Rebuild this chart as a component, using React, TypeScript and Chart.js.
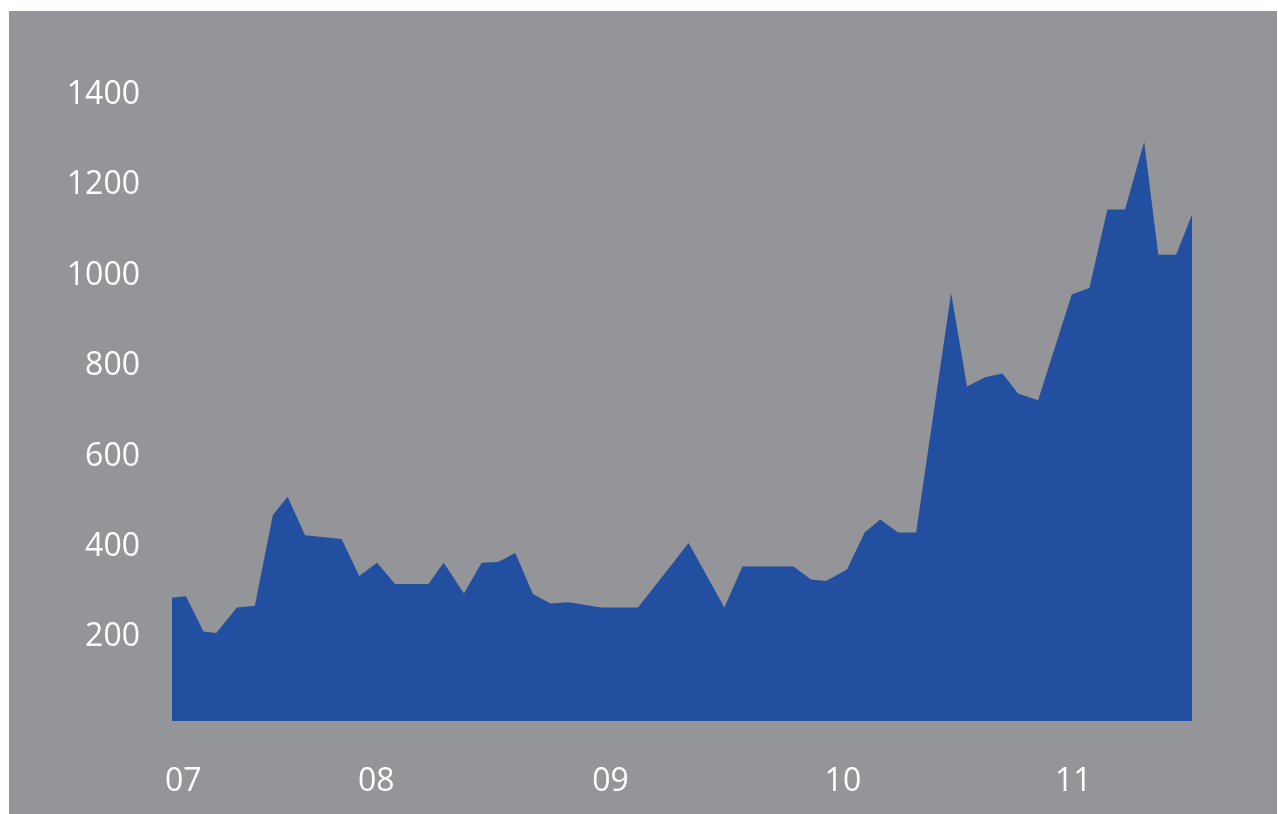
import React, { useEffect, useRef } from "react";
import { Chart, registerables } from "chart.js";

Chart.register(...registerables);

// x positions in months since Jan 2007
const months: number[] = [
  1.45, 2.17, 3.08, 3.74, 4.8, 5.73, 6.66, 7.42, 8.32, 10.21, 11.12, 12.04, 12.97, 14.69, 15.48,
  16.53, 17.44, 18.29, 19.18, 20.09, 20.99, 21.93, 23.61, 25.52, 28.13, 29.98, 30.91, 33.55,
  34.45, 35.23, 36.31, 37.22, 38.03, 38.95, 39.88, 41.69, 42.51, 43.44, 44.34, 45.15, 46.18,
  47.92, 48.83, 49.76, 50.67, 51.66, 52.39, 53.31, 54.13,
];
const values: number[] = [
  281, 284, 206, 203, 259, 263, 464, 504, 419, 411, 329, 358, 311, 311, 358,
  290, 358, 360, 380, 289, 268, 271, 259, 259, 402, 259, 350, 350,
  321, 318, 343, 425, 454, 425, 425, 955, 748, 769, 777, 733, 718,
  952, 966, 1140, 1140, 1290, 1040, 1040, 1129,
];
const xTickValues: number[] = [2.03, 12, 24.1, 36.1, 48];
const xTickLabels: string[] = ["07", "08", "09", "10", "11"];
const yTickValues: number[] = [200, 400, 600, 800, 1000, 1200, 1400];

const GRAY = "#939598";
const BLUE = "#234fa0";
const FONT = "'Open Sans', sans-serif";

export default function App() {
  const ref = useRef<HTMLCanvasElement | null>(null);

  useEffect(() => {
    if (!ref.current) return;
    const points = months.map((m, i) => ({ x: m, y: values[i] }));
    const chart = new Chart(ref.current, {
      type: "line",
      data: {
        datasets: [
          {
            data: points,
            fill: "start",
            backgroundColor: BLUE,
            borderWidth: 0,
            borderColor: BLUE,
            pointRadius: 0,
            tension: 0,
          },
        ],
      },
      options: {
        animation: false,
        responsive: false,
        maintainAspectRatio: false,
        layout: { padding: { left: 0, right: 86, top: 81, bottom: 0 } },
        plugins: { legend: { display: false }, tooltip: { enabled: false } },
        scales: {
          x: {
            type: "linear",
            min: months[0],
            max: months[months.length - 1],
            grid: { display: false, drawTicks: false },
            border: { display: false },
            afterFit: (s: any) => {
              s.height = 93;
            },
            afterBuildTicks: (s: any) => {
              s.ticks = xTickValues.map((v) => ({ value: v }));
            },
            ticks: {
              color: "#ffffff",
              font: { family: FONT, size: 32 },
              padding: 42,
              maxRotation: 0,
              autoSkip: false,
              callback: (v: any) => {
                const i = xTickValues.indexOf(Number(v));
                return i >= 0 ? xTickLabels[i] : "";
              },
            },
          },
          y: {
            min: 8,
            max: 1400,
            grid: { display: false, drawTicks: false },
            border: { display: false },
            afterFit: (s: any) => {
              s.width = 163;
            },
            afterBuildTicks: (s: any) => {
              s.ticks = yTickValues.map((v) => ({ value: v }));
            },
            ticks: {
              color: "#ffffff",
              font: { family: FONT, size: 32 },
              padding: 32,
              labelOffset: 3,
              callback: (v: any) => String(v),
            },
          },
        },
      },
    });
    return () => chart.destroy();
  }, []);

  return (
    <div style={{ position: "fixed", left: 0, top: 0, width: 1278, height: 814, background: "#ffffff" }}>
      <div style={{ position: "absolute", left: 9, top: 11, width: 1268, height: 803, background: GRAY }} />
      <canvas
        ref={ref}
        width={1269}
        height={803}
        style={{ position: "absolute", left: 9, top: 11, width: 1269, height: 803 }}
      />
    </div>
  );
}
